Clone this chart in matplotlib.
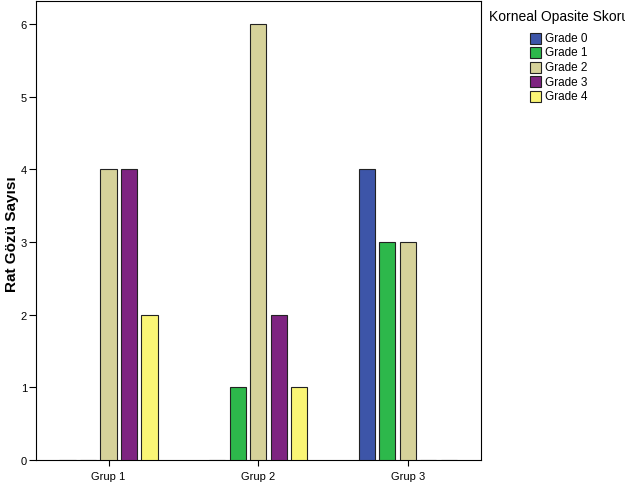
import matplotlib
matplotlib.use("Agg")
import matplotlib.pyplot as plt
import numpy as np
from matplotlib.patches import Rectangle

plt.rcParams['font.family'] = ['Liberation Sans', 'DejaVu Sans']

groups = ["Grup 1", "Grup 2", "Grup 3"]
grades = ["Grade 0", "Grade 1", "Grade 2", "Grade 3", "Grade 4"]
grade0 = [0, 0, 4]
grade1 = [0, 1, 3]
grade2 = [4, 6, 3]
grade3 = [4, 2, 0]
grade4 = [2, 1, 0]
series = [grade0, grade1, grade2, grade3, grade4]
colors = ["#3D55A8", "#2DB84B", "#D6D29A", "#7E2481", "#FAF575"]
yticks = [0, 1, 2, 3, 4, 5, 6]

W, H = 625, 489
fig = plt.figure(figsize=(W/100, H/100), dpi=100)
ax = fig.add_axes([36/W, 1-461/H, (481-36)/W, (461-2)/H])

x = np.arange(len(groups))
pitch = 0.137
width = 0.108
for i, (vals, c) in enumerate(zip(series, colors)):
    ax.bar(x + (i-2)*pitch, vals, width, color=c, edgecolor="#222222", linewidth=0.8, zorder=3)

ax.set_xlim(-0.485, 2.49)
ax.set_ylim(0, 6.32)
ax.set_yticks(yticks)
ax.set_xticks(x)
ax.set_xticklabels(groups)
ax.tick_params(axis='both', labelsize=8, direction='out', width=0.8, colors='black')
ax.tick_params(axis='y', length=5, pad=1.5)
ax.tick_params(axis='x', length=4, pad=4)
for s in ax.spines.values():
    s.set_linewidth(0.8)

fig.text(12/W, 1-234/H, "Rat Gözü Sayısı", rotation=90, fontsize=11, fontweight='bold',
         ha='center', va='center')

# legend drawn at figure level
fig.text(489/W, 1-17/H, "Korneal Opasite Skoru", fontsize=10, ha='left', va='center')
for j, (g, c) in enumerate(zip(grades, colors)):
    yc = 39 + j*14.5
    fig.patches.append(Rectangle((530/W, 1-(yc+5.5)/H), 11/W, 11/H, transform=fig.transFigure,
                                 facecolor=c, edgecolor="#222222", linewidth=0.8))
    fig.text(545/W, 1-yc/H, g, fontsize=8.5, ha='left', va='center')

fig.savefig("out.png", dpi=100)
